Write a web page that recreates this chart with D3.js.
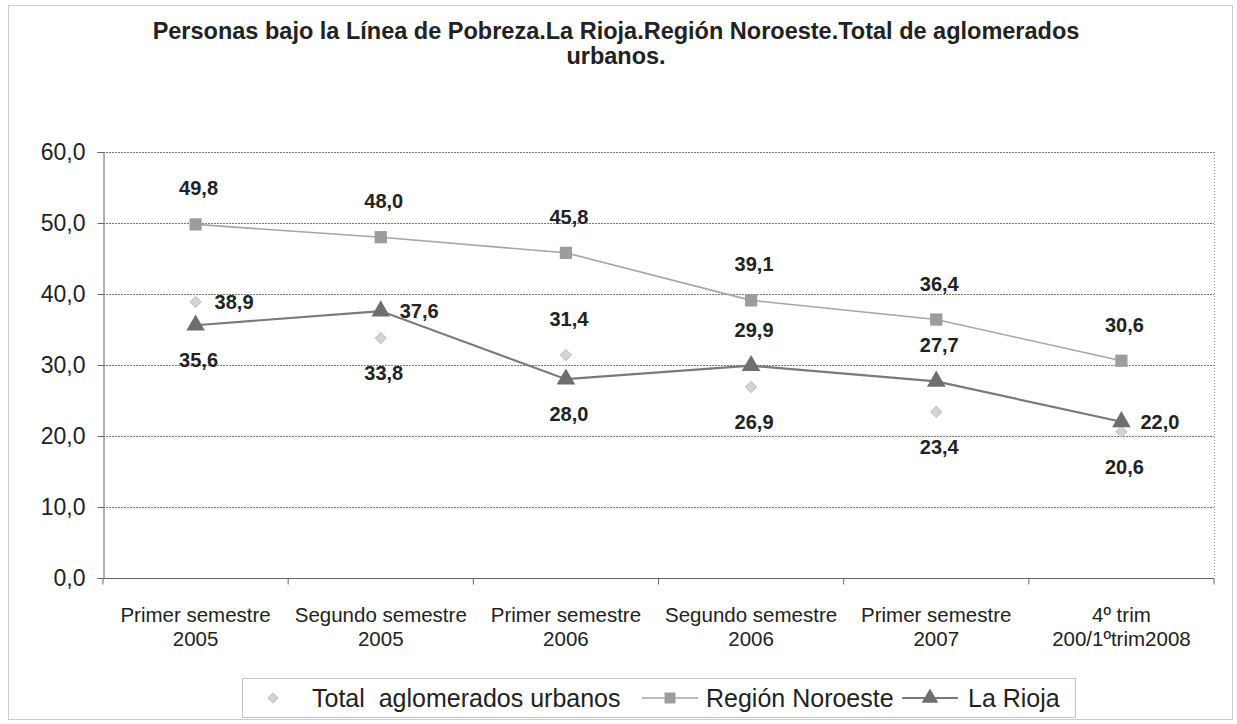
<!DOCTYPE html>
<html>
<head>
<meta charset="utf-8">
<script src="https://cdn.jsdelivr.net/npm/d3@7"></script>
<style>
  body { margin: 0; background: #fff; }
  svg text { font-family: "Liberation Sans", Arial, sans-serif; fill: #222; }
</style>
</head>
<body>
<svg id="chart" width="1237" height="724"></svg>
<script>
// --- DATOS ---
const categories = [
  ["Primer semestre", "2005"],
  ["Segundo semestre", "2005"],
  ["Primer semestre", "2006"],
  ["Segundo semestre", "2006"],
  ["Primer semestre", "2007"],
  ["4º trim", "200/1ºtrim2008"]
];
const totalAglomerados = [38.9, 33.8, 31.4, 26.9, 23.4, 20.6];
const regionNoroeste   = [49.8, 48.0, 45.8, 39.1, 36.4, 30.6];
const laRioja          = [35.6, 37.6, 28.0, 29.9, 27.7, 22.0];
const yTicks = [0, 10, 20, 30, 40, 50, 60];

// donde va cada etiqueta de valor
const totalLabelPos    = ["right", "below", "above", "below", "below", "below"];
const noroesteLabelPos = ["above", "above", "above", "above", "above", "above"];
const riojaLabelPos    = ["below", "right", "below", "above", "above", "right"];

const svg = d3.select("#chart");
const plot = { left: 103, right: 1214, top: 152, bottom: 578 };
const fmt = v => d3.format(".1f")(v).replace(".", ",");

// marco exterior punteado
svg.append("rect")
  .attr("x", 8.5).attr("y", 5.5)
  .attr("width", 1224).attr("height", 714)
  .attr("fill", "none").attr("stroke", "#999")
  .attr("stroke-width", 1).attr("stroke-dasharray", "1,1");

// titulo
const title = svg.append("text")
  .attr("text-anchor", "middle")
  .style("font-size", "23.5px").style("font-weight", "bold");
title.append("tspan").attr("x", 616).attr("y", 39)
  .text("Personas bajo la Línea de Pobreza.La Rioja.Región Noroeste.Total de aglomerados");
title.append("tspan").attr("x", 616).attr("y", 64).text("urbanos.");

// escalas
const x = d3.scaleBand()
  .domain(d3.range(categories.length))
  .range([plot.left, plot.right])
  .padding(0);
const y = d3.scaleLinear().domain([0, 60]).range([plot.bottom, plot.top]);
const cx = i => x(i) + x.bandwidth() / 2;

// lineas de grilla
svg.append("g")
  .selectAll("line")
  .data(yTicks.filter(t => t > 0))
  .join("line")
  .attr("x1", plot.left).attr("x2", plot.right)
  .attr("y1", d => Math.round(y(d)) + 0.5).attr("y2", d => Math.round(y(d)) + 0.5)
  .attr("stroke", "#777").attr("stroke-width", 1).attr("stroke-dasharray", "2,1");

// borde derecho del area
svg.append("line")
  .attr("x1", plot.right + 0.5).attr("x2", plot.right + 0.5)
  .attr("y1", plot.top).attr("y2", plot.bottom)
  .attr("stroke", "#888").attr("stroke-dasharray", "1,2");

// eje Y
const yAxis = svg.append("g")
  .attr("transform", `translate(${plot.left + 0.5},0)`)
  .call(d3.axisLeft(y).tickValues(yTicks).tickSize(6).tickPadding(12).tickFormat(fmt));
yAxis.select(".domain").attr("stroke", "#666");
yAxis.selectAll(".tick line").attr("stroke", "#666");
yAxis.selectAll("text")
  .style("font-size", "23px").attr("fill", "#333")
  .style("font-family", "'Liberation Sans', Arial, sans-serif");

// eje X
const xAxisG = svg.append("g")
  .attr("transform", `translate(0,${Math.round(plot.bottom) + 0.5})`);
xAxisG.append("line")
  .attr("x1", plot.left).attr("x2", plot.right)
  .attr("stroke", "#666");
xAxisG.selectAll(".tk")
  .data(d3.range(categories.length + 1))
  .join("line")
  .attr("x1", i => i < categories.length ? x(i) : plot.right)
  .attr("x2", i => i < categories.length ? x(i) : plot.right)
  .attr("y1", 0).attr("y2", 6)
  .attr("stroke", "#666");

const xl = svg.append("g");
categories.forEach((c, i) => {
  const t = xl.append("text")
    .attr("text-anchor", "middle")
    .style("font-size", "20.5px").attr("fill", "#333");
  t.append("tspan").attr("x", cx(i)).attr("y", 622).text(c[0]);
  t.append("tspan").attr("x", cx(i)).attr("y", 646).text(c[1]);
});

// series
const series = [
  { name: "Total  aglomerados urbanos", values: totalAglomerados, labels: totalLabelPos,
    line: null, symbol: d3.symbolSquare, rot: 45, size: 60, fill: "#d4d4d4", stroke: "#c2c2c2" },
  { name: "Región Noroeste", values: regionNoroeste, labels: noroesteLabelPos,
    line: { color: "#a6a6a6", width: 1.6 }, symbol: d3.symbolSquare, rot: 0, size: 150, fill: "#9c9c9c", stroke: "none" },
  { name: "La Rioja", values: laRioja, labels: riojaLabelPos,
    line: { color: "#7a7a7a", width: 2.2 }, symbol: d3.symbolTriangle, rot: 0, size: 150, fill: "#6e6e6e", stroke: "none" }
];

const lineGen = d3.line().x((d, i) => cx(i)).y(d => y(d));

series.forEach(s => {
  if (s.line) {
    svg.append("path")
      .datum(s.values)
      .attr("d", lineGen)
      .attr("fill", "none")
      .attr("stroke", s.line.color)
      .attr("stroke-width", s.line.width);
  }
});

series.forEach(s => {
  svg.append("g")
    .selectAll("path")
    .data(s.values)
    .join("path")
    .attr("transform", (d, i) => `translate(${cx(i)},${y(d)}) rotate(${s.rot})`)
    .attr("d", d3.symbol().type(s.symbol).size(s.size))
    .attr("fill", s.fill)
    .attr("stroke", s.stroke);
});

// etiquetas de valores
series.forEach(s => {
  svg.append("g")
    .selectAll("text")
    .data(s.values)
    .join("text")
    .attr("x", (d, i) => s.labels[i] === "right" ? cx(i) + 19 : cx(i) + 3)
    .attr("y", (d, i) => {
      const p = s.labels[i];
      if (p === "above") return y(d) - 29;
      if (p === "below") return y(d) + 42;
      return y(d) + 7;
    })
    .attr("text-anchor", (d, i) => s.labels[i] === "right" ? "start" : "middle")
    .style("font-size", "20px").style("font-weight", "bold")
    .attr("fill", "#222")
    .text(d => fmt(d));
});

// leyenda
const lg = svg.append("g");
lg.append("rect")
  .attr("x", 242.5).attr("y", 678.5)
  .attr("width", 833).attr("height", 39)
  .attr("fill", "#fff").attr("stroke", "#888").attr("stroke-dasharray", "1,1");

const legendItems = [
  { s: series[0], mx: 273, tx: 312 },
  { s: series[1], mx: 670, tx: 706 },
  { s: series[2], mx: 930, tx: 968 }
];
const ly = 698;
legendItems.forEach(it => {
  if (it.s.line) {
    lg.append("line")
      .attr("x1", it.mx - 28).attr("x2", it.mx + 28)
      .attr("y1", ly).attr("y2", ly)
      .attr("stroke", it.s.line.color).attr("stroke-width", it.s.line.width);
  }
  lg.append("path")
    .attr("transform", `translate(${it.mx},${ly}) rotate(${it.s.rot})`)
    .attr("d", d3.symbol().type(it.s.symbol).size(it.s.size * 0.8))
    .attr("fill", it.s.fill).attr("stroke", it.s.stroke);
  lg.append("text")
    .attr("x", it.tx).attr("y", ly + 9)
    .style("font-size", "25px").attr("fill", "#222")
    .attr("xml:space", "preserve")
    .style("white-space", "pre")
    .text(it.s.name);
});
</script>
</body>
</html>
